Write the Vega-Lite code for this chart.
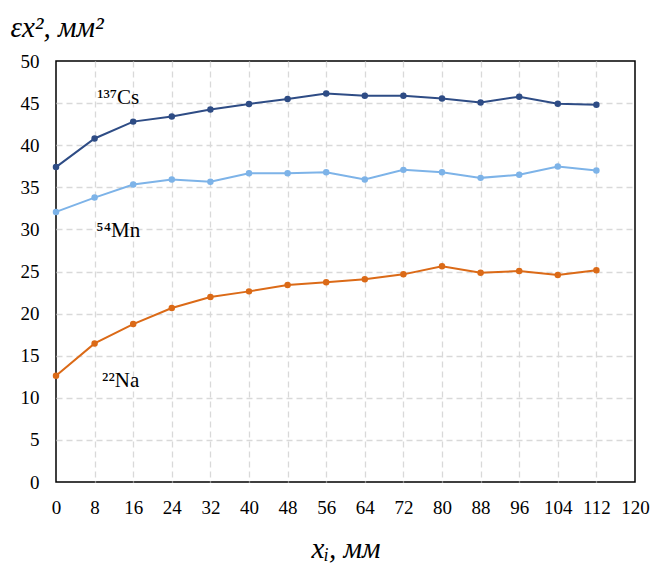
{
  "$schema": "https://vega.github.io/schema/vega-lite/v6.json",
  "autosize": {"type": "none"},
  "padding": {"left": 56, "top": 61, "right": 20, "bottom": 84},
  "width": 579,
  "height": 421,
  "background": "white",
  "config": {
    "font": "Liberation Serif",
    "view": {"stroke": "#000000", "strokeWidth": 1.5},
    "axis": {
      "labelFont": "Liberation Serif",
      "labelFontSize": 19,
      "labelColor": "#000000",
      "labelOverlap": false,
      "labelFlush": false,
      "titleFont": "Liberation Serif",
      "titleFontStyle": "italic",
      "titleFontWeight": "normal",
      "titleColor": "#000000",
      "titleFontSize": 29,
      "domain": false,
      "ticks": false,
      "grid": true,
      "gridColor": "#D9D9D9",
      "gridDash": [6, 4],
      "gridWidth": 1.3
    }
  },
  "data": {
    "values": [
      {"x": 0, "y": 37.4, "s": "Cs"},
      {"x": 8, "y": 40.8, "s": "Cs"},
      {"x": 16, "y": 42.8, "s": "Cs"},
      {"x": 24, "y": 43.4, "s": "Cs"},
      {"x": 32, "y": 44.25, "s": "Cs"},
      {"x": 40, "y": 44.9, "s": "Cs"},
      {"x": 48, "y": 45.5, "s": "Cs"},
      {"x": 56, "y": 46.13, "s": "Cs"},
      {"x": 64, "y": 45.87, "s": "Cs"},
      {"x": 72, "y": 45.87, "s": "Cs"},
      {"x": 80, "y": 45.55, "s": "Cs"},
      {"x": 88, "y": 45.08, "s": "Cs"},
      {"x": 96, "y": 45.76, "s": "Cs"},
      {"x": 104, "y": 44.92, "s": "Cs"},
      {"x": 112, "y": 44.8, "s": "Cs"},
      {"x": 0, "y": 32.08, "s": "Mn"},
      {"x": 8, "y": 33.78, "s": "Mn"},
      {"x": 16, "y": 35.33, "s": "Mn"},
      {"x": 24, "y": 35.92, "s": "Mn"},
      {"x": 32, "y": 35.65, "s": "Mn"},
      {"x": 40, "y": 36.68, "s": "Mn"},
      {"x": 48, "y": 36.68, "s": "Mn"},
      {"x": 56, "y": 36.8, "s": "Mn"},
      {"x": 64, "y": 35.92, "s": "Mn"},
      {"x": 72, "y": 37.07, "s": "Mn"},
      {"x": 80, "y": 36.8, "s": "Mn"},
      {"x": 88, "y": 36.12, "s": "Mn"},
      {"x": 96, "y": 36.48, "s": "Mn"},
      {"x": 104, "y": 37.47, "s": "Mn"},
      {"x": 112, "y": 36.99, "s": "Mn"},
      {"x": 0, "y": 12.61, "s": "Na"},
      {"x": 8, "y": 16.46, "s": "Na"},
      {"x": 16, "y": 18.76, "s": "Na"},
      {"x": 24, "y": 20.66, "s": "Na"},
      {"x": 32, "y": 21.97, "s": "Na"},
      {"x": 40, "y": 22.64, "s": "Na"},
      {"x": 48, "y": 23.39, "s": "Na"},
      {"x": 56, "y": 23.71, "s": "Na"},
      {"x": 64, "y": 24.07, "s": "Na"},
      {"x": 72, "y": 24.66, "s": "Na"},
      {"x": 80, "y": 25.62, "s": "Na"},
      {"x": 88, "y": 24.86, "s": "Na"},
      {"x": 96, "y": 25.06, "s": "Na"},
      {"x": 104, "y": 24.58, "s": "Na"},
      {"x": 112, "y": 25.14, "s": "Na"}
    ]
  },
  "encoding": {
    "x": {
      "field": "x",
      "type": "quantitative",
      "scale": {"domain": [0, 120], "nice": false, "zero": false},
      "axis": {
        "values": [0, 8, 16, 24, 32, 40, 48, 56, 64, 72, 80, 88, 96, 104, 112, 120],
        "labelPadding": 16,
        "gridOpacity": {"condition": {"test": "datum.value == 0 || datum.value == 120", "value": 0}, "value": 1},
        "title": "xᵢ, мм",
        "titleBaseline": "alphabetic",
        "titleY": 75
      }
    },
    "y": {
      "field": "y",
      "type": "quantitative",
      "scale": {"domain": [0, 50], "nice": false},
      "axis": {
        "values": [0, 5, 10, 15, 20, 25, 30, 35, 40, 45, 50],
        "labelPadding": 17,
        "gridOpacity": {"condition": {"test": "datum.value == 0 || datum.value == 50", "value": 0}, "value": 1},
        "title": "εx², мм²",
        "titleAngle": 0,
        "titleAlign": "left",
        "titleBaseline": "alphabetic",
        "titleX": -46,
        "titleY": -25
      }
    }
  },
  "layer": [
    {
      "mark": {"type": "line", "strokeWidth": 2, "point": {"size": 42, "filled": true, "opacity": 1}},
      "encoding": {
        "color": {
          "field": "s",
          "type": "nominal",
          "scale": {"domain": ["Cs", "Mn", "Na"], "range": ["#2E4C85", "#7DB3E8", "#DB6A17"]},
          "legend": null
        }
      }
    },
    {
      "data": {
        "values": [
          {"x": 12.9, "y": 45.6, "label": "¹³⁷Cs"},
          {"x": 12.9, "y": 29.8, "label": "⁵⁴Mn"},
          {"x": 13.4, "y": 12.0, "label": "²²Na"}
        ]
      },
      "mark": {"type": "text", "font": "Liberation Serif", "fontSize": 21, "color": "#000000", "baseline": "middle", "align": "center"},
      "encoding": {"text": {"field": "label"}}
    }
  ]
}
